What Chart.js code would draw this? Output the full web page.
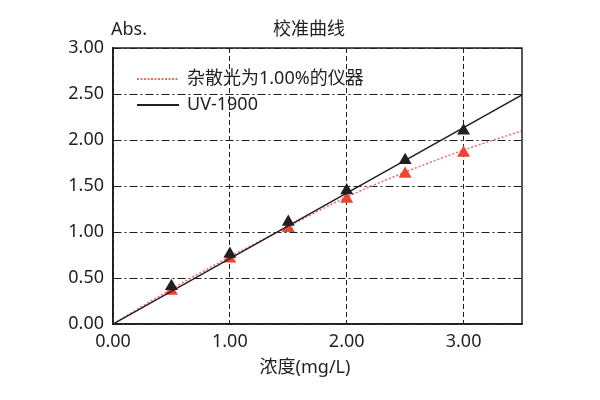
<!DOCTYPE html>
<html>
<head>
<meta charset="utf-8">
<script src="https://cdn.jsdelivr.net/npm/chart.js@4/dist/chart.umd.min.js"></script>
<style>
  html, body { margin: 0; padding: 0; background: #fff; }
  #wrap { width: 600px; height: 400px; }
</style>
</head>
<body>
<div id="wrap"><canvas id="calib" width="600" height="400"></canvas></div>
<script>
// Calibration curve
const concentrations = [0.5, 1.0, 1.5, 2.0, 2.5, 3.0];
const absUV1900 = [0.41, 0.76, 1.11, 1.45, 1.78, 2.10];
const absStray = [0.36, 0.71, 1.04, 1.36, 1.63, 1.86];

// fitted lines
const uvLineX = [0, 3.5];
const uvLineY = [0, 2.49];
const strayCurveX = [0, 0.5, 1.0, 1.5, 2.0, 2.5, 3.0, 3.5];
const strayCurveY = [0, 0.38, 0.73, 1.06, 1.38, 1.65, 1.89, 2.10];

const xTicks = [0, 1, 2, 3];
const seriesNames = ['杂散光为1.00%的仪器', 'UV-1900'];

const FONT = '"Noto Sans", "Noto Sans CJK SC", sans-serif';
const INK = '#231f20';
const RED = '#ec4630';

function pairs(xs, ys) {
    return xs.map((x, i) => ({ x: x, y: ys[i] }));
}

// frame, titles and the legend inside the plot
const decorations = {
    id: 'decorations',
    afterDraw(chart) {
        const ctx = chart.ctx;
        const a = chart.chartArea;
        ctx.save();
        ctx.strokeStyle = INK;
        ctx.lineWidth = 1.5;
        ctx.setLineDash([]);
        ctx.strokeRect(a.left, a.top, a.right - a.left, a.bottom - a.top);

        ctx.fillStyle = INK;
        ctx.font = '18px ' + FONT;
        ctx.textBaseline = 'middle';
        ctx.textAlign = 'left';
        ctx.fillText('Abs.', 111, 30);
        ctx.textAlign = 'center';
        ctx.fillText('校准曲线', 309, 30);
        ctx.fillText('浓度(mg/L)', 305, 368);

        // legend
        ctx.textAlign = 'left';
        ctx.strokeStyle = '#d9482b';
        ctx.lineWidth = 1.5;
        ctx.setLineDash([2, 1.5]);
        ctx.beginPath();
        ctx.moveTo(137, 79);
        ctx.lineTo(179, 79);
        ctx.stroke();
        ctx.setLineDash([]);
        ctx.strokeStyle = INK;
        ctx.lineWidth = 2;
        ctx.beginPath();
        ctx.moveTo(137, 105);
        ctx.lineTo(179, 105);
        ctx.stroke();
        ctx.fillText(seriesNames[0], 187, 79);
        ctx.fillText(seriesNames[1], 187, 105);
        ctx.restore();
    }
};

const ctx = document.getElementById('calib').getContext('2d');
new Chart(ctx, {
    type: 'scatter',
    data: {
        datasets: [
            {
                label: 'UV-1900 points',
                data: pairs(concentrations, absUV1900),
                pointStyle: 'triangle',
                pointRadius: 7.5,
                backgroundColor: INK,
                borderColor: INK,
                borderWidth: 0
            },
            {
                label: seriesNames[1],
                data: pairs(uvLineX, uvLineY),
                showLine: true,
                pointRadius: 0,
                borderColor: INK,
                borderWidth: 1.5
            },
            {
                label: 'stray points',
                data: pairs(concentrations, absStray),
                pointStyle: 'triangle',
                pointRadius: 7.5,
                backgroundColor: RED,
                borderColor: RED,
                borderWidth: 0
            },
            {
                label: seriesNames[0],
                data: pairs(strayCurveX, strayCurveY),
                showLine: true,
                pointRadius: 0,
                borderColor: '#f06a6a',
                borderWidth: 1.5,
                borderDash: [2, 2],
                cubicInterpolationMode: 'monotone'
            }
        ]
    },
    options: {
        responsive: false,
        animation: false,
        layout: {
            padding: { top: 48, right: 78, left: 0, bottom: 0 }
        },
        scales: {
            x: {
                type: 'linear',
                min: 0,
                max: 3.5,
                afterFit: function(scale) { scale.height = 76; },
                afterBuildTicks: function(scale) {
                    scale.ticks = xTicks.map(v => ({ value: v }));
                },
                ticks: {
                    padding: 7,
                    color: INK,
                    font: { family: FONT, size: 18 },
                    callback: v => v.toFixed(2)
                },
                grid: {
                    color: INK,
                    lineWidth: 1,
                    drawTicks: false
                },
                border: { color: INK, width: 1.5, dash: [5, 3] }
            },
            y: {
                min: 0,
                max: 3,
                afterFit: function(scale) { scale.width = 113; },
                ticks: {
                    stepSize: 0.5,
                    padding: 9,
                    color: INK,
                    font: { family: FONT, size: 18 },
                    callback: v => v.toFixed(2)
                },
                grid: {
                    color: INK,
                    lineWidth: 1,
                    drawTicks: false
                },
                border: { color: INK, width: 1.5, dash: [8, 3, 2, 3] }
            }
        },
        plugins: {
            legend: { display: false },
            tooltip: { enabled: false }
        }
    },
    plugins: [decorations]
});
</script>
</body>
</html>
